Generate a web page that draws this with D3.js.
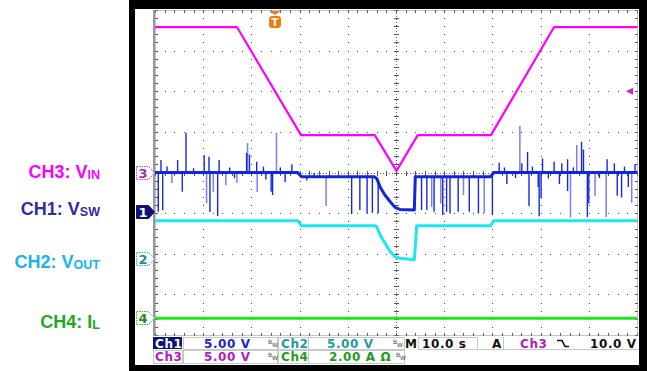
<!DOCTYPE html>
<html>
<head>
<meta charset="utf-8">
<script src="https://cdn.jsdelivr.net/npm/d3@7"></script>
<style>
body { margin: 0; background: #fff; }
svg { display: block; }
</style>
</head>
<body>
<div id="scope"></div>
<script>
//
// Data (time in s, channel values in V or A)
//
var ch3Time  = [0, 17.0, 30.3, 45.6, 50.1, 54.5, 69.7, 82.8, 100];
var ch3Volts = [17.9, 17.9, 4.6, 4.6, 0.2, 4.6, 4.6, 17.9, 17.9];

var ch1Time  = [0, 29.6, 30.4, 45.5, 46.0, 46.7, 47.7, 48.8, 49.8, 50.8, 53.8, 54.0, 69.6, 70.3, 100];
var ch1Volts = [4.86, 4.86, 4.35, 4.35, 4.15, 3.1, 2.1, 1.27, 0.58, 0.33, 0.25, 4.35, 4.35, 4.86, 4.86];

var ch2Time  = [0, 29.6, 30.4, 45.5, 46.0, 46.7, 47.7, 48.8, 49.8, 50.8, 53.8, 54.3, 69.6, 70.3, 100];
var ch2Volts = [4.72, 4.72, 4.1, 4.1, 3.98, 2.96, 1.97, 0.9, 0.28, 0.09, -0.1, 4.1, 4.1, 4.72, 4.72];

var ch4Time = [0, 100];
var ch4Amps = [0, 0];

// switch node glitches (latest acquisition)
var glitchTime  = [0.68, 1.24, 1.6, 2.5, 4.7, 5.66, 6.43, 8.0, 10.2, 11.2, 11.4, 13.0, 13.3, 15.5, 16.5,
                   19.0, 19.6, 21.1, 22.5, 23.0, 24.1, 24.4, 26.0, 27.0, 28.4, 31.5, 33.0,
                   40.8, 42.5, 44.0, 45.1, 46.3, 55.3, 56.4, 57.9, 59.7, 60.5, 61.2, 62.9, 65.2, 67.1, 70.0,
                   71.4, 72.5, 73.0, 74.8, 76.1, 77.3, 77.6, 78.3, 79.5, 79.7, 80.1, 80.4, 81.6, 82.8, 83.9,
                   84.4, 85.6, 85.6, 86.8, 88.5, 88.9, 89.7, 90.0, 92.2, 93.8, 95.3, 95.9, 96.8, 97.4, 98.2, 99.6];
var glitchVolts = [0.04, 6.4, 0.25, 5.6, 6.4, 2.5, 9.77, 5.4, 7.0, 6.8, 0.0, -0.5, 6.4, 5.5, 4.2,
                   7.3, 7.1, 6.2, 5.6, 4.0, 2.5, 2.1, 5.5, 3.7, 5.9, 3.9, 4.8,
                   -0.25, 0.25, -0.16, -0.1, -0.1, 0.25, 0.25, 0.04, -0.37, 0.04, -0.16, 0.04, 0.04, -0.16, -0.37,
                   6.07, 5.5, 3.45, 4.2, 6.0, 7.4, 0.74, 5.6, 3.1, -0.5, 1.7, 6.6, 4.15, 6.2, 3.45,
                   6.0, 6.5, 2.6, 5.5, 8.66, 7.7, -0.6, 1.07, 4.2, 6.5, 6.0, 2.0, 1.8, 5.6, 3.1, 5.9];

// fainter persistence glitches
var ghostTime  = [3.5, 10.7, 12.1, 14.7, 17.0, 19.2, 21.2, 25.2, 35.5, 57.4, 59.3, 64.0, 68.3,
                  75.7, 86.2, 87.5, 91.3, 93.6, 98.9];
var ghostVolts = [3.57, 1.1, 2.5, 3.3, 3.6, 8.5, 2.5, 9.77, 0.74, 0.65, 1.07, 2.1, -0.1,
                  10.6, -0.65, 8.25, 2.0, -0.6, 1.15];

// readout
var chScales   = ["5.00 V", "5.00 V", "5.00 V", "2.00 A"];
var timeBase   = "10.0 s";
var trigSource = "Ch3";
var trigLevel  = 10.0;
var trigTime   = 24.9;

//
// Layout
//
var W = 647, H = 371;
var plot = {left: 155, right: 637, top: 10, bottom: 335};

var svg = d3.select("#scope").append("svg")
    .attr("width", W)
    .attr("height", H);

// time in s, vertical in divisions
var x = d3.scaleLinear().domain([0, 100]).range([plot.left, plot.right]);
var yDiv = d3.scaleLinear().domain([-4, 4]).range([plot.bottom, plot.top]);

// channel ground positions (divisions from centre) and units per division
var channels = {
    ch1: {pos: -0.975, perDiv: 5, color: "#1225dc"},
    ch2: {pos: -2.13,  perDiv: 5, color: "#1ee6f2"},
    ch3: {pos: 0,      perDiv: 5, color: "#ff00ff"},
    ch4: {pos: -3.59,  perDiv: 2, color: "#22e622"}
};

function yCh(c, v) {
    return yDiv(channels[c].pos + v / channels[c].perDiv);
}

function zip(a, b) {
    return a.map(function(d, i) { return [d, b[i]]; });
}

// ch1 level at time t (baseline for the glitches)
function ch1At(t) {
    var i = d3.bisectRight(ch1Time, t);
    if (i <= 0) return ch1Volts[0];
    if (i >= ch1Time.length) return ch1Volts[ch1Volts.length - 1];
    var t0 = ch1Time[i - 1], t1 = ch1Time[i];
    var k = (t - t0) / (t1 - t0);
    return ch1Volts[i - 1] + k * (ch1Volts[i] - ch1Volts[i - 1]);
}

//
// Frame
//
svg.append("rect").attr("x", 129).attr("y", 0).attr("width", 518).attr("height", 9).attr("fill", "#000");
svg.append("rect").attr("x", 129).attr("y", 0).attr("width", 6).attr("height", H).attr("fill", "#000");
svg.append("rect").attr("x", 639).attr("y", 0).attr("width", 8).attr("height", H).attr("fill", "#000");
svg.append("rect").attr("x", 129).attr("y", 365).attr("width", 518).attr("height", 6).attr("fill", "#000");

//
// Graticule
//
var grid = svg.append("g").attr("class", "grid").attr("fill", "#555");
var minorT = d3.range(0, 100.01, 2);
var minorV = d3.range(-4, 4.01, 0.2);

// dotted major lines
[10, 20, 30, 40, 60, 70, 80, 90].forEach(function(t) {
    grid.selectAll(null).data(minorV).enter().append("rect")
        .attr("x", Math.round(x(t)))
        .attr("y", function(d) { return Math.round(yDiv(d)); })
        .attr("width", 1).attr("height", 1);
});
[-3, -2, -1, 1, 2, 3].forEach(function(v) {
    grid.selectAll(null).data(minorT).enter().append("rect")
        .attr("x", function(d) { return Math.round(x(d)); })
        .attr("y", Math.round(yDiv(v)))
        .attr("width", 1).attr("height", 1);
});

// centre lines with ticks
grid.append("line")
    .attr("x1", Math.round(x(50)) + 0.5).attr("x2", Math.round(x(50)) + 0.5)
    .attr("y1", plot.top).attr("y2", plot.bottom)
    .attr("stroke", "#666").attr("stroke-dasharray", "1,2");
grid.append("line")
    .attr("x1", plot.left).attr("x2", plot.right)
    .attr("y1", Math.round(yDiv(0)) + 0.5).attr("y2", Math.round(yDiv(0)) + 0.5)
    .attr("stroke", "#666").attr("stroke-dasharray", "1,2");
grid.selectAll(null).data(minorV).enter().append("rect")
    .attr("x", Math.round(x(50)) - 2)
    .attr("y", function(d) { return Math.round(yDiv(d)); })
    .attr("width", 5).attr("height", 1);
grid.selectAll(null).data(minorT).enter().append("rect")
    .attr("x", function(d) { return Math.round(x(d)); })
    .attr("y", Math.round(yDiv(0)) - 2)
    .attr("width", 1).attr("height", 5);

// border with ticks
svg.append("rect")
    .attr("x", plot.left + 0.5).attr("y", plot.top + 0.5)
    .attr("width", plot.right - plot.left).attr("height", plot.bottom - plot.top)
    .attr("fill", "none").attr("stroke", "#888").attr("stroke-dasharray", "1,1");
svg.append("rect")
    .attr("x", plot.left - 2).attr("y", plot.top)
    .attr("width", 2).attr("height", plot.bottom - plot.top + 1)
    .attr("fill", "#999");
grid.selectAll(null).data(minorT).enter().append("rect")
    .attr("x", function(d) { return Math.round(x(d)); })
    .attr("y", plot.top).attr("width", 1).attr("height", 3);
grid.selectAll(null).data(minorT).enter().append("rect")
    .attr("x", function(d) { return Math.round(x(d)); })
    .attr("y", plot.bottom - 2).attr("width", 1).attr("height", 3);
grid.selectAll(null).data(minorV).enter().append("rect")
    .attr("x", plot.left).attr("y", function(d) { return Math.round(yDiv(d)); })
    .attr("width", 3).attr("height", 1);
grid.selectAll(null).data(minorV).enter().append("rect")
    .attr("x", plot.right - 2).attr("y", function(d) { return Math.round(yDiv(d)); })
    .attr("width", 3).attr("height", 1);

//
// Traces
//
var traces = svg.append("g").attr("class", "traces");

function trace(c, tArr, vArr, w) {
    var line = d3.line()
        .x(function(d) { return x(d[0]); })
        .y(function(d) { return yCh(c, d[1]); });
    traces.append("path")
        .datum(zip(tArr, vArr))
        .attr("d", line)
        .attr("fill", "none")
        .attr("stroke", channels[c].color)
        .attr("stroke-width", w)
        .attr("stroke-linejoin", "round");
}

function glitches(tArr, vArr, color, w) {
    traces.append("g").selectAll("line")
        .data(zip(tArr, vArr))
        .enter().append("line")
        .attr("x1", function(d) { return x(d[0]); })
        .attr("x2", function(d) { return x(d[0]); })
        .attr("y1", function(d) { return yCh("ch1", ch1At(d[0])); })
        .attr("y2", function(d) { return yCh("ch1", d[1]); })
        .attr("stroke", color)
        .attr("stroke-width", w);
}

trace("ch4", ch4Time, ch4Amps, 3);
trace("ch2", ch2Time, ch2Volts, 3);
glitches(ghostTime, ghostVolts, "#7c7cf4", 1.5);
trace("ch1", ch1Time, ch1Volts, 3);
glitches(glitchTime, glitchVolts, "#1428e0", 1.4);
trace("ch3", ch3Time, ch3Volts, 2.2);

//
// Markers
//
function groundMarker(c, label, filled, stroke, textColor) {
    var y = Math.round(yCh(c, 0));
    var g = svg.append("g");
    g.append("path")
        .attr("d", "M136.5," + (y - 6.5) + "H148.5L154.5," + y + "L148.5," + (y + 6.5) + "H136.5Z")
        .attr("fill", filled ? stroke : "#fff")
        .attr("stroke", stroke)
        .attr("stroke-width", 1)
        .attr("stroke-dasharray", filled ? null : "1.5,1");
    g.append("text")
        .attr("x", 143).attr("y", y + 5)
        .attr("text-anchor", "middle")
        .attr("font-family", "DejaVu Sans")
        .attr("font-weight", "bold")
        .attr("font-size", 13)
        .attr("fill", textColor)
        .text(label);
}
groundMarker("ch3", "3", false, "#c040c0", "#a030a0");
groundMarker("ch1", "1", true, "#0c1478", "#fff");
groundMarker("ch2", "2", false, "#30b0b0", "#209090");
groundMarker("ch4", "4", false, "#30c030", "#209020");

// trigger position
var tg = svg.append("g");
tg.append("path")
    .attr("d", "M" + (x(trigTime) - 6) + ",11H" + (x(trigTime) + 6) + "L" + x(trigTime) + ",15Z")
    .attr("fill", "#f07c10");
tg.append("rect")
    .attr("x", x(trigTime) - 6).attr("y", 16).attr("width", 12).attr("height", 12).attr("rx", 3)
    .attr("fill", "#f07c10");
tg.append("text")
    .attr("x", x(trigTime)).attr("y", 26)
    .attr("text-anchor", "middle")
    .attr("font-family", "DejaVu Sans").attr("font-weight", "bold").attr("font-size", 10)
    .attr("fill", "#fff").text("T");

// trigger level
var ty = yCh("ch3", trigLevel);
svg.append("path")
    .attr("d", "M626," + ty + "L633," + (ty - 3.5) + "V" + (ty + 3.5) + "Z")
    .attr("fill", "#d020d0");

//
// Channel names on the left
//
var names = [
    {c: "ch3", main: "CH3: V", sub: "IN",  color: "#ff00ff", dy: -1},
    {c: "ch1", main: "CH1: V", sub: "SW",  color: "#2e2e9c", dy: -4},
    {c: "ch2", main: "CH2: V", sub: "OUT", color: "#18b4ee", dy: 2},
    {c: "ch4", main: "CH4: I", sub: "L",   color: "#20aa20", dy: 3}
];
names.forEach(function(d) {
    var t = svg.append("text")
        .attr("x", 100).attr("y", yCh(d.c, 0) + 6.5 + d.dy)
        .attr("text-anchor", "end")
        .attr("font-family", "Liberation Sans, Arial, sans-serif")
        .attr("font-weight", "bold")
        .attr("font-size", 18)
        .attr("fill", d.color);
    t.append("tspan").text(d.main);
    t.append("tspan").attr("font-size", 12.5).attr("dy", 1).text(d.sub);
});

//
// Readout bar
//
var bar = svg.append("g").attr("font-family", "DejaVu Sans").attr("font-weight", "bold").attr("font-size", 12);
var r1 = 347.5, r2 = 361;

function box(x0, x1, y0, y1) {
    bar.append("rect")
        .attr("x", x0 + 0.5).attr("y", y0 + 0.5)
        .attr("width", x1 - x0).attr("height", y1 - y0)
        .attr("fill", "none").attr("stroke", "#c8c8c8");
}
function txt(xp, yp, s, color) {
    return bar.append("text").attr("x", xp).attr("y", yp)
        .attr("fill", color).attr("letter-spacing", 0.6).text(s);
}
function bw(xp, yp) {
    var t = bar.append("text").attr("x", xp).attr("y", yp - 2)
        .attr("font-size", 6).attr("font-weight", "normal").attr("fill", "#444");
    t.append("tspan").attr("dy", -2).text("B");
    t.append("tspan").attr("dy", 3).text("W");
}

box(183, 277, 337, 349); box(278, 308, 337, 349); box(308, 404, 337, 349); box(418, 477, 337, 349);
box(153, 182, 350, 363); box(183, 277, 350, 363); box(278, 308, 350, 363); box(308, 404, 350, 363);
bar.append("line").attr("x1", 503.5).attr("x2", 503.5).attr("y1", 337).attr("y2", 349).attr("stroke", "#c8c8c8");
bar.append("line").attr("x1", 477).attr("x2", 639).attr("y1", 349.5).attr("y2", 349.5).attr("stroke", "#c8c8c8");

bar.append("rect").attr("x", 153).attr("y", 337).attr("width", 29).attr("height", 12).attr("fill", "#0c1478");
txt(155, r1, "Ch1", "#fff");
txt(204, r1, chScales[0], "#2222c8");
bw(268, r1);
txt(281, r1, "Ch2", "#1e9c9c");
txt(327, r1, chScales[1], "#1e9c9c");
bw(393, r1);
txt(405, r1, "M", "#111");
txt(422, r1, timeBase, "#111");
txt(492, r1, "A", "#111");
txt(520, r1, trigSource, "#b020c0");
bar.append("path").attr("d", "M557,340.5H562L565,346.5H569")
    .attr("fill", "none").attr("stroke", "#111").attr("stroke-width", 1.6);
txt(590, r1, d3.format(".1f")(trigLevel) + " V", "#111");

txt(155, r2, "Ch3", "#b020c0");
txt(204, r2, chScales[2], "#b020c0");
bw(268, r2);
txt(281, r2, "Ch4", "#1e9c1e");
txt(329, r2, chScales[3] + " \u03a9", "#1e9c1e");
bw(396, r2);
</script>
</body>
</html>
